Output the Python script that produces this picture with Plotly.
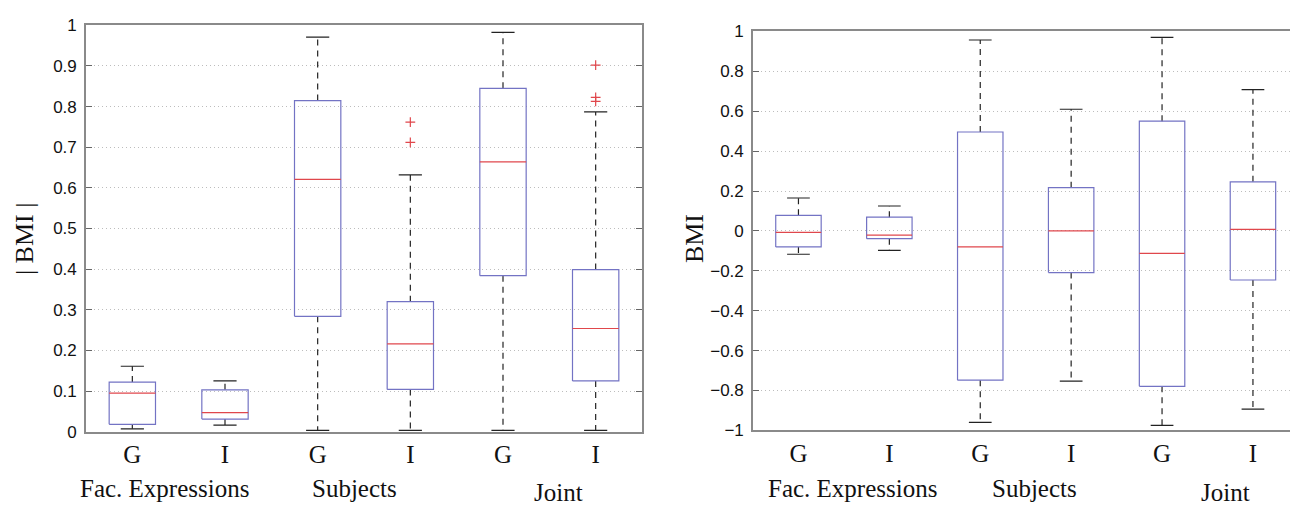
import plotly.graph_objects as go

# Box statistics per group: G/I for Fac. Expressions, Subjects, Joint
labels = ["G", "I", "G", "I", "G", "I"]
groups = ["Fac. Expressions", "Subjects", "Joint"]

# |BMI| panel
abs_low = [0.007, 0.016, 0.003, 0.003, 0.003, 0.003]
abs_q1 = [0.018, 0.031, 0.284, 0.104, 0.384, 0.125]
abs_med = [0.095, 0.047, 0.621, 0.216, 0.664, 0.254]
abs_q3 = [0.122, 0.103, 0.815, 0.320, 0.845, 0.399]
abs_high = [0.161, 0.125, 0.971, 0.632, 0.983, 0.787]
abs_outliers = {4: [0.762, 0.712], 6: [0.902, 0.823, 0.813]}

# BMI panel
bmi_low = [-0.117, -0.097, -0.960, -0.753, -0.975, -0.893]
bmi_q1 = [-0.080, -0.039, -0.748, -0.209, -0.779, -0.246]
bmi_med = [-0.007, -0.021, -0.080, 0.000, -0.113, 0.008]
bmi_q3 = [0.078, 0.069, 0.496, 0.217, 0.550, 0.246]
bmi_high = [0.165, 0.125, 0.957, 0.610, 0.970, 0.708]
bmi_outliers = {}

BOX_HALF = 0.25
CAP_HALF = 0.125
BOX_COLOR = "#7373c4"
MED_COLOR = "#e0474c"
WHISK_COLOR = "#222222"

fig = go.Figure()


def add_boxes(low, q1, med, q3, high, outliers, xa, ya):
    bx, by, mx, my, wx, wy, cx, cy = [], [], [], [], [], [], [], []
    for i in range(len(low)):
        p = i + 1
        bx += [p - BOX_HALF, p + BOX_HALF, p + BOX_HALF, p - BOX_HALF, p - BOX_HALF, None]
        by += [q1[i], q1[i], q3[i], q3[i], q1[i], None]
        mx += [p - BOX_HALF, p + BOX_HALF, None]
        my += [med[i], med[i], None]
        wx += [p, p, None, p, p, None]
        wy += [q3[i], high[i], None, q1[i], low[i], None]
        cx += [p - CAP_HALF, p + CAP_HALF, None, p - CAP_HALF, p + CAP_HALF, None]
        cy += [high[i], high[i], None, low[i], low[i], None]
    common = dict(mode="lines", xaxis=xa, yaxis=ya, showlegend=False, hoverinfo="skip")
    fig.add_trace(go.Scatter(x=wx, y=wy, line=dict(color=WHISK_COLOR, width=1.2, dash="6px,5px"), **common))
    fig.add_trace(go.Scatter(x=cx, y=cy, line=dict(color=WHISK_COLOR, width=1.2), **common))
    fig.add_trace(go.Scatter(x=bx, y=by, line=dict(color=BOX_COLOR, width=1.2), **common))
    fig.add_trace(go.Scatter(x=mx, y=my, line=dict(color=MED_COLOR, width=1.2), **common))
    ox, oy = [], []
    for pos, vals in outliers.items():
        ox += [pos] * len(vals)
        oy += vals
    if ox:
        fig.add_trace(go.Scatter(
            x=ox, y=oy, mode="markers", xaxis=xa, yaxis=ya, showlegend=False,
            marker=dict(symbol="cross-thin", size=7, line=dict(color=MED_COLOR, width=1.2)),
            hoverinfo="skip"))


add_boxes(abs_low, abs_q1, abs_med, abs_q3, abs_high, abs_outliers, "x", "y")
add_boxes(bmi_low, bmi_q1, bmi_med, bmi_q3, bmi_high, bmi_outliers, "x2", "y2")

W, H = 1290, 511
tick_font = dict(family="Liberation Sans, Arial, sans-serif", size=17, color="#111111")
serif = "Liberation Serif, Times New Roman, serif"
axis_line = dict(showline=True, linecolor="#8a8a8a", linewidth=1.6)
grid = dict(showgrid=True, gridcolor="#bdbdbd", griddash="1px,3px", gridwidth=1)

positions = list(range(1, len(labels) + 1))
xcommon = dict(tickmode="array", tickvals=positions, ticktext=labels, ticks="",
               tickfont=dict(family=serif, size=25, color="#111111"), showgrid=False,
               zeroline=False, **axis_line)

fig.update_layout(
    width=W, height=H, margin=dict(l=0, r=0, t=0, b=0),
    paper_bgcolor="white", plot_bgcolor="white",
    xaxis=dict(domain=[86 / W, 642 / W], range=[0.5, 6.5], anchor="y", mirror=True, **xcommon),
    yaxis=dict(domain=[1 - 439 / H, 1 - 17 / H], range=[0, 1], anchor="x", mirror="ticks",
               tickvals=[i / 10 for i in range(11)],
               ticktext=["0", "0.1", "0.2", "0.3", "0.4", "0.5", "0.6", "0.7", "0.8", "0.9", "1"],
               ticks="inside", ticklen=6, tickcolor="#666666", tickfont=tick_font,
               zeroline=False, ticklabelstandoff=4, **axis_line, **grid),
    xaxis2=dict(domain=[753 / W, 1.0], range=[0.5, 0.5 + (W - 753) / 90.9], anchor="y2",
                mirror=True, **xcommon),
    yaxis2=dict(domain=[1 - 437.7 / H, 1 - 23.3 / H], range=[-1, 1], anchor="x2", mirror=False,
                tickvals=[-1 + 0.2 * i for i in range(11)],
                ticktext=["\u22121", "\u22120.8", "\u22120.6", "\u22120.4", "\u22120.2", "0",
                          "0.2", "0.4", "0.6", "0.8", "1"],
                ticks="inside", ticklen=6, tickcolor="#666666", tickfont=tick_font,
                zeroline=False, ticklabelstandoff=4, **axis_line, **grid),
)

# group names under each G/I pair
group_offsets = [[0.35, 0.4, 0.6], [0.6, 0.6, 0.7]]
for k, (xr, offs) in enumerate(zip(["x", "x2"], group_offsets)):
    for g, name in enumerate(groups):
        yoff = 1 - (501.7 if name == "Joint" else 498) / H
        fig.add_annotation(x=2 * g + 1 + offs[g], y=yoff, xref=xr, yref="paper",
                           text=name, showarrow=False, xanchor="center", yanchor="middle",
                           font=dict(family=serif, size=25, color="#111111"))

# y-axis titles
fig.add_annotation(x=24 / W, y=1 - 239 / H, xref="paper", yref="paper", text="| BMI |",
                   textangle=-90, showarrow=False, xanchor="center", yanchor="middle",
                   font=dict(family=serif, size=26, color="#111111"))
fig.add_annotation(x=694 / W, y=1 - 239 / H, xref="paper", yref="paper", text="BMI",
                   textangle=-90, showarrow=False, xanchor="center", yanchor="middle",
                   font=dict(family=serif, size=26, color="#111111"))

fig.write_html("out.html")
